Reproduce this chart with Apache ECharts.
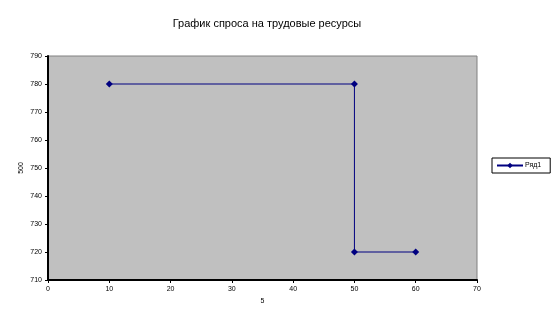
<!DOCTYPE html>
<html><head><meta charset="utf-8">
<script src="https://cdn.jsdelivr.net/npm/echarts@6/dist/echarts.min.js"></script>
<style>html,body{margin:0;padding:0;background:#fff}#c{width:554px;height:325px}</style>
</head><body><div id="c"></div>
<script>
var titleText = 'График спроса на трудовые ресурсы';
var seriesName = 'Ряд1';
var xName = '5';
var yName = '500';
var xValues = [10, 50, 50, 60];
var yValues = [780, 780, 720, 720];

var data = xValues.map(function(x, i){ return [x, yValues[i]]; });
var chart = echarts.init(document.getElementById('c'), null, {renderer:'canvas'});
chart.setOption({
  animation: false,
  backgroundColor: '#fff',
  title: { text: titleText, left: 262, top: 13, textAlign: 'center',
    textStyle: { fontFamily: 'Liberation Sans, Arial', fontSize: 11, fontWeight: 'normal', color: '#000' } },
  legend: { left: 492, top: 158, orient: 'vertical', itemWidth: 26, itemHeight: 7, itemGap: 0,
    borderColor: '#000', borderWidth: 1, padding: [4, 9, 4, 4], borderRadius: 0,
    textStyle: { fontFamily: 'Liberation Sans, Arial', fontSize: 7, color: '#000', padding: [0,0,0,-3] },
    data: [{ name: seriesName }] },
  grid: { left: 48, right: 77, top: 56, bottom: 45, show: true, backgroundColor: '#c0c0c0', borderColor: '#808080', borderWidth: 1 },
  xAxis: { type: 'value', min: 0, max: 70, interval: 10, name: xName, nameLocation: 'middle', nameGap: 18,
    nameTextStyle: { fontFamily: 'Liberation Sans, Arial', fontSize: 7, color: '#000' },
    axisLine: { show: true, lineStyle: { color: '#000', width: 2 } },
    axisTick: { show: true, length: 3, lineStyle: { color: '#000' } },
    axisLabel: { fontFamily: 'Liberation Sans, Arial', fontSize: 7, color: '#000', margin: 6 },
    splitLine: { show: false } },
  yAxis: { type: 'value', min: 710, max: 790, interval: 10, name: yName, nameLocation: 'middle', nameGap: 23,
    nameMoveOverlap: false,
    nameTextStyle: { fontFamily: 'Liberation Sans, Arial', fontSize: 7, color: '#000' },
    axisLine: { show: true, lineStyle: { color: '#000', width: 2 } },
    axisTick: { show: true, length: 3, lineStyle: { color: '#000' } },
    axisLabel: { fontFamily: 'Liberation Sans, Arial', fontSize: 7, color: '#000', margin: 6 },
    splitLine: { show: false } },
  series: [{ name: seriesName, type: 'line', data: data, symbol: 'diamond', symbolSize: 7,
    itemStyle: { color: '#000080' }, lineStyle: { color: '#000080', width: 1 } }]
});
</script></body></html>
